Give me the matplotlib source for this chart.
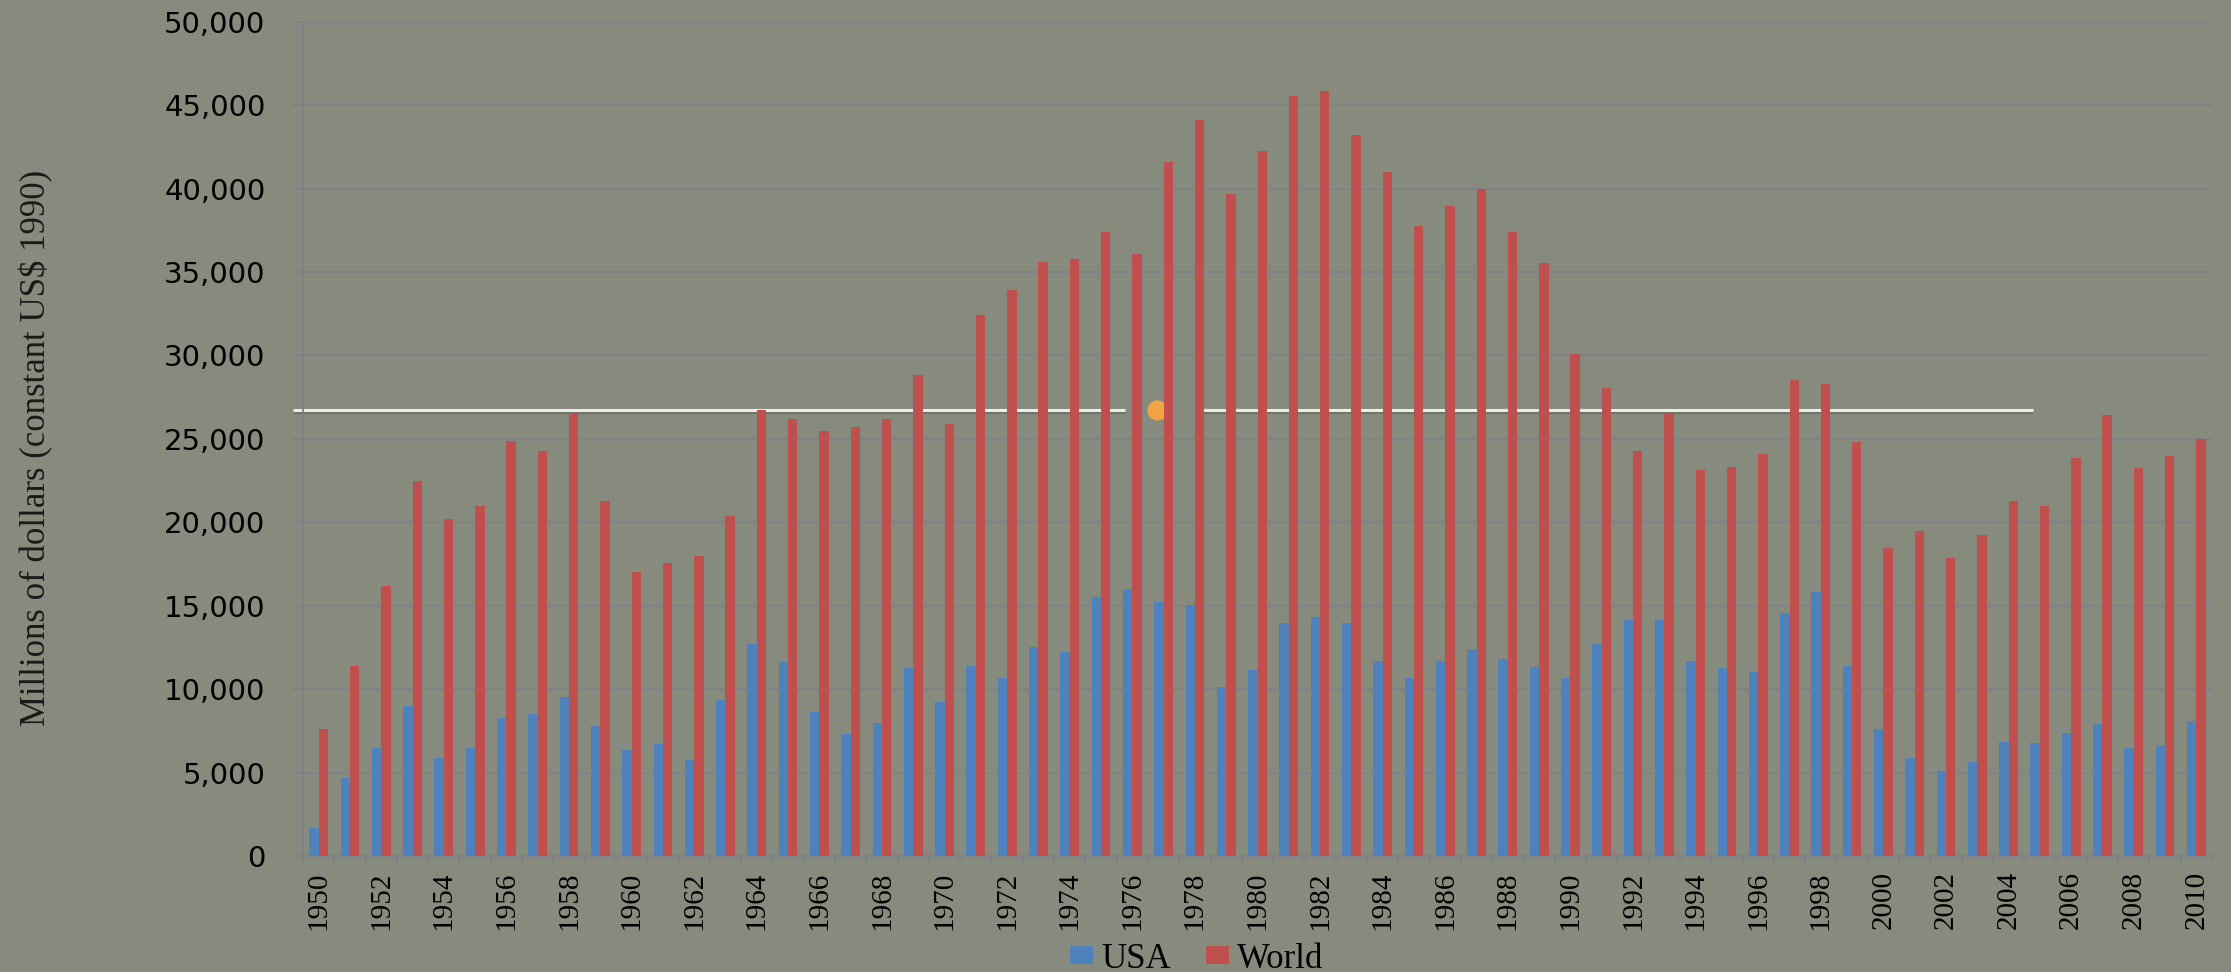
import numpy as np
import matplotlib
matplotlib.use("Agg")
import matplotlib.pyplot as plt
import matplotlib.patheffects as pe
from matplotlib.ticker import FuncFormatter, MultipleLocator

# données (millions de dollars constants 1990)
years = list(range(1950, 2011))
usa = [1700, 4700, 6450, 9000, 5850, 6500, 8300, 8500, 9550, 7800,
       6350, 6700, 5750, 9350, 12700, 11600, 8650, 7300, 8000, 11250,
       9200, 11400, 10650, 12500, 12200, 15500, 16000, 15250, 15050, 10150,
       11150, 13950, 14300, 13950, 11700, 10650, 11700, 12400, 11800, 11300,
       10650, 12700, 14150, 14150, 11700, 11250, 11050, 14550, 15800, 11400,
       7600, 5850, 5100, 5650, 6850, 6750, 7400, 7900, 6450, 6650,
       8100]
world = [7600, 11400, 16200, 22500, 20200, 21000, 24900, 24250, 26550, 21300,
         17000, 17550, 18000, 20400, 26750, 26200, 25500, 25700, 26200, 28800,
         25900, 32400, 33900, 35600, 35750, 37400, 36100, 41600, 44100, 39700,
         42250, 45550, 45850, 43200, 41000, 37750, 38950, 40000, 37400, 35550,
         30100, 28050, 24300, 26550, 23150, 23300, 24100, 28500, 28300, 24800,
         18450, 19450, 17850, 19250, 21300, 21000, 23850, 26400, 23250, 24000,
         25000]
series_names = ["USA", "World"]
y_label = "Millions of dollars (constant US$ 1990)"

# barre de lecture vidéo superposée à la diapo (décor)
slider_y = 26700
slider_segments = [(-0.82, 25.76), (28.25, 54.77)]
slider_knob_x = 26.78

bg = "#878b7e"
blue = "#4f81bd"
red = "#c0504d"
grid_col = "#7e8088"

fig = plt.figure(figsize=(22.31, 9.72), dpi=100, facecolor=bg)
ax = fig.add_axes([303 / 2231, 1 - 856 / 972, 1909 / 2231, (856 - 21.7) / 972])
ax.set_facecolor(bg)

x = np.arange(len(years))
w = 0.3
ax.bar(x - w / 2, usa, width=w, color=blue, label=series_names[0], zorder=3)
ax.bar(x + w / 2, world, width=w, color=red, label=series_names[1], zorder=3)

# barre blanche + bouton orange (derrière les barres)
for x0, x1 in slider_segments:
    ax.plot([x0, x1], [slider_y, slider_y], color="#eeeee8", lw=2.2,
            solid_capstyle="butt", clip_on=False, zorder=2,
            path_effects=[pe.SimpleLineShadow(offset=(0, -1), shadow_color="#3a3d35", alpha=0.3),
                          pe.Normal()])
ax.plot([slider_knob_x], [slider_y], "o", ms=13.5, color="#f2a344", mec="#f2a344",
        zorder=2.5, clip_on=False)

ax.set_xlim(-0.5, len(years) - 0.5)
ax.set_ylim(0, 50000)
ax.yaxis.set_major_locator(MultipleLocator(5000))
ax.yaxis.set_major_formatter(FuncFormatter(lambda v, p: f"{int(v):,}"))
ax.grid(axis="y", color=grid_col, lw=1.1, zorder=0)

ax.set_xticks(x[::2])
ax.set_xticklabels([str(y) for y in years[::2]], rotation=90,
                   fontfamily="Liberation Serif", fontsize=21)
ax.set_xticks(np.arange(-0.5, len(years)), minor=True)
ax.tick_params(axis="x", which="major", length=0, pad=11)
ax.tick_params(axis="x", which="minor", length=5, width=1.2, color=grid_col)
ax.tick_params(axis="y", length=7, width=1.2, color=grid_col, pad=20, labelsize=21)

for s in ["top", "right"]:
    ax.spines[s].set_visible(False)
for s in ["left", "bottom"]:
    ax.spines[s].set_color(grid_col)
    ax.spines[s].set_linewidth(1.3)

fig.text(36 / 2231, 1 - 448 / 972, y_label, rotation=90, ha="center", va="center",
         fontfamily="Liberation Serif", fontsize=25, color="#1a1a1a")

leg = fig.legend(loc="center", bbox_to_anchor=(1197 / 2231, 1 - 959 / 972), ncol=2,
                 frameon=False, prop={"family": "Liberation Serif", "size": 25},
                 handlelength=0.65, handleheight=0.45, handletextpad=0.25,
                 columnspacing=1.0)

fig.savefig("out.png", dpi=100, facecolor=bg)
